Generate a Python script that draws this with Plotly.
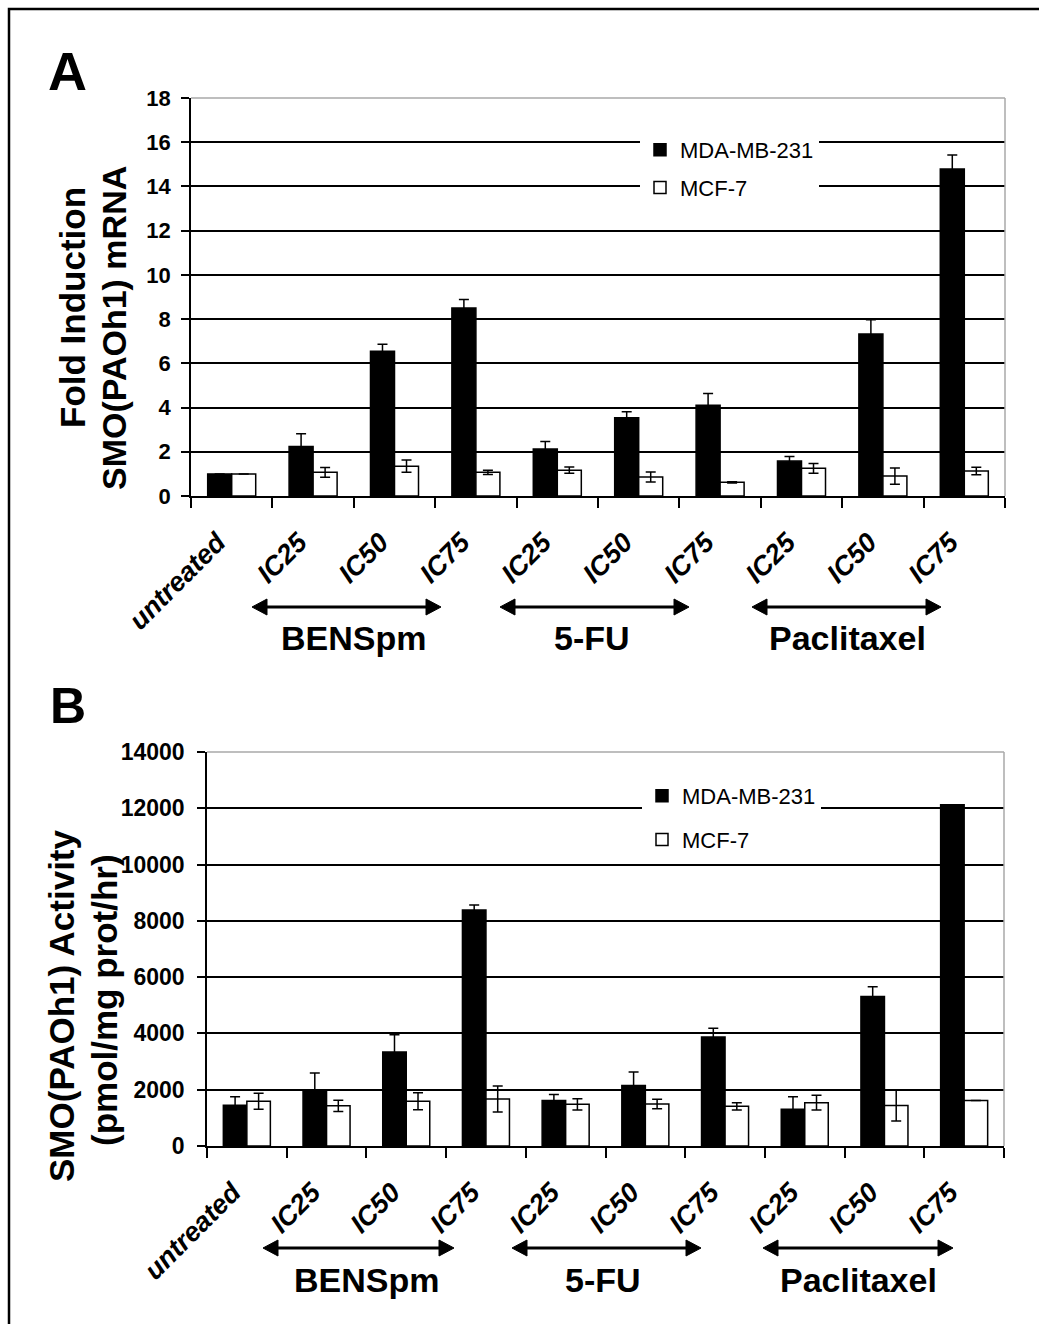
import plotly.graph_objects as go

# ---------------- data ----------------
conditions = ["untreated",
              "BENSpm IC25", "BENSpm IC50", "BENSpm IC75",
              "5-FU IC25", "5-FU IC50", "5-FU IC75",
              "Paclitaxel IC25", "Paclitaxel IC50", "Paclitaxel IC75"]
tick_labels = ["untreated", "IC25", "IC50", "IC75", "IC25", "IC50", "IC75", "IC25", "IC50", "IC75"]
drug_groups = ["BENSpm", "5-FU", "Paclitaxel"]
series_names = ["MDA-MB-231", "MCF-7"]

# Panel A: fold induction of SMO(PAOh1) mRNA
a_mda = [1.0, 2.24, 6.55, 8.5, 2.13, 3.54, 4.1, 1.58, 7.33, 14.79]
a_mda_err = [None, 0.57, 0.31, 0.39, 0.33, 0.27, 0.54, 0.21, 0.64, 0.63]
a_mcf = [1.0, 1.07, 1.35, 1.07, 1.17, 0.86, 0.62, 1.25, 0.9, 1.13]
a_mcf_err = [None, 0.22, 0.28, 0.1, 0.14, 0.23, 0.03, 0.22, 0.37, 0.17]

# Panel B: SMO(PAOh1) activity (pmol/mg prot/hr)
b_mda = [1450, 2000, 3340, 8390, 1620, 2150, 3870, 1310, 5310, 12130]
b_mda_err = [300, 590, 610, 170, 210, 480, 310, 440, 350, None]
b_mcf = [1590, 1430, 1590, 1670, 1480, 1490, 1410, 1540, 1440, 1620]
b_mcf_err = [280, 200, 300, 460, 200, 170, 130, 260, 555, None]

# ---------------- layout helpers ----------------
W, H = 1039, 1324
FONT = "Liberation Sans, Arial, sans-serif"


def px(x):
    return x / W


def py(y):
    return 1 - y / H


fig = go.Figure()


def add_panel(mda, mda_err, mcf, mcf_err, xa, ya, legend):
    fig.add_trace(go.Bar(
        x=conditions, y=mda, name=series_names[0], xaxis=xa, yaxis=ya,
        marker=dict(color="black", line=dict(color="black", width=1.5)),
        error_y=dict(type="data", array=mda_err, visible=True, color="black",
                     thickness=1.5, width=5),
        legend=legend, legendgroup=legend + "a"))
    fig.add_trace(go.Bar(
        x=conditions, y=mcf, name=series_names[1], xaxis=xa, yaxis=ya,
        marker=dict(color="white", line=dict(color="black", width=1.5)),
        error_y=dict(type="data", array=mcf_err, visible=True, color="black",
                     thickness=1.5, width=5),
        legend=legend, legendgroup=legend + "b"))


add_panel(a_mda, a_mda_err, a_mcf, a_mcf_err, "x", "y", "legend")
add_panel(b_mda, b_mda_err, b_mcf, b_mcf_err, "x2", "y2", "legend2")

xcommon = dict(
    type="category", categoryorder="array", categoryarray=conditions,
    tickmode="array", tickvals=conditions, ticktext=tick_labels,
    tickson="boundaries", ticks="outside", ticklen=10, tickwidth=1.5, tickcolor="black",
    showline=True, linecolor="black", linewidth=1.5, showgrid=False,
    tickangle=-45, automargin=False,
    tickfont=dict(family=FONT, size=27, color="black", weight="bold", style="italic"),
    ticklabelstandoff=18, ticklabelshift=-14,
)
ycommon = dict(
    ticks="outside", ticklen=8, tickwidth=1.5, tickcolor="black",
    showline=True, linecolor="black", linewidth=1.5, automargin=False,
    showgrid=True, gridcolor="black", gridwidth=1.5, zeroline=False,
)

fig.update_layout(
    template="none",
    width=W, height=H, margin=dict(l=0, r=0, t=0, b=0, pad=0), autosize=False,
    paper_bgcolor="white", plot_bgcolor="white",
    barmode="group", bargap=0.41, bargroupgap=0,
    font=dict(family=FONT, color="black"),
    xaxis=dict(domain=[px(191), px(1005)], anchor="y", **xcommon),
    yaxis=dict(domain=[py(496), py(98)], anchor="x", range=[0, 18], dtick=2,
               tickfont=dict(family=FONT, size=22, color="black", weight="bold"),
               ticklabelstandoff=6, **ycommon),
    xaxis2=dict(domain=[px(207), px(1004)], anchor="y2", **xcommon),
    yaxis2=dict(domain=[py(1146), py(752)], anchor="x2", range=[0, 14000], dtick=2000,
                tickformat="d",
                tickfont=dict(family=FONT, size=23, color="black", weight="bold"),
                ticklabelstandoff=8, **ycommon),
    legend=dict(x=px(640), y=py(129), xanchor="left", yanchor="top",
                bgcolor="white", borderwidth=0, tracegroupgap=6, entrywidth=160,
                font=dict(family=FONT, size=22, color="black")),
    legend2=dict(x=px(642), y=py(775), xanchor="left", yanchor="top",
                 bgcolor="white", borderwidth=0, tracegroupgap=12, entrywidth=160,
                 font=dict(family=FONT, size=22, color="black")),
)

shapes = []
# outer frame (left & top visible)
shapes.append(dict(type="rect", xref="paper", yref="paper",
                   x0=px(9), y0=py(9), x1=1.02, y1=-0.02,
                   line=dict(color="black", width=2.5)))
# grey top/right plot-area borders
for xr, yr in (("x domain", "y domain"), ("x2 domain", "y2 domain")):
    shapes.append(dict(type="line", xref=xr, yref=yr, x0=0, x1=1, y0=1, y1=1,
                       line=dict(color="#a8a8a8", width=1.5), layer="above"))
    shapes.append(dict(type="line", xref=xr, yref=yr, x0=1, x1=1, y0=0, y1=1,
                       line=dict(color="#a8a8a8", width=1.5), layer="above"))


def arrow(x0, x1, y):
    hl, hh = 15, 8
    shapes.append(dict(type="line", xref="paper", yref="paper",
                       x0=px(x0 + hl - 2), x1=px(x1 - hl + 2), y0=py(y), y1=py(y),
                       line=dict(color="black", width=3)))
    shapes.append(dict(type="path", xref="paper", yref="paper",
                       path=f"M {px(x0)},{py(y)} L {px(x0 + hl)},{py(y - hh)} L {px(x0 + hl)},{py(y + hh)} Z",
                       fillcolor="black", line=dict(color="black", width=1)))
    shapes.append(dict(type="path", xref="paper", yref="paper",
                       path=f"M {px(x1)},{py(y)} L {px(x1 - hl)},{py(y - hh)} L {px(x1 - hl)},{py(y + hh)} Z",
                       fillcolor="black", line=dict(color="black", width=1)))


annotations = []
arrows_a = [(252, 441), (500, 689), (752, 941)]
labels_a_x = [353, 592, 847]
arrows_b = [(263, 454), (512, 701), (763, 953)]
labels_b_x = [366, 603, 858]
for (x0, x1), lx, g in zip(arrows_a, labels_a_x, drug_groups):
    arrow(x0, x1, 607)
    annotations.append(dict(text=g, x=px(lx), y=py(638), xref="paper", yref="paper",
                            showarrow=False, xanchor="center", yanchor="middle",
                            font=dict(family=FONT, size=34, weight="bold", color="black")))
for (x0, x1), lx, g in zip(arrows_b, labels_b_x, drug_groups):
    arrow(x0, x1, 1248)
    annotations.append(dict(text=g, x=px(lx), y=py(1280), xref="paper", yref="paper",
                            showarrow=False, xanchor="center", yanchor="middle",
                            font=dict(family=FONT, size=34, weight="bold", color="black")))

annotations += [
    dict(text="A", x=px(67), y=py(71), xref="paper", yref="paper", showarrow=False,
         xanchor="center", yanchor="middle",
         font=dict(family=FONT, size=54, weight="bold", color="black")),
    dict(text="B", x=px(68), y=py(706), xref="paper", yref="paper", showarrow=False,
         xanchor="center", yanchor="middle",
         font=dict(family=FONT, size=50, weight="bold", color="black")),
    dict(text="Fold Induction", x=px(73), y=py(308), xref="paper", yref="paper",
         showarrow=False, textangle=-90, xanchor="center", yanchor="middle",
         font=dict(family=FONT, size=35, weight="bold", color="black")),
    dict(text="SMO(PAOh1) mRNA", x=px(114), y=py(328), xref="paper", yref="paper",
         showarrow=False, textangle=-90, xanchor="center", yanchor="middle",
         font=dict(family=FONT, size=34, weight="bold", color="black")),
    dict(text="SMO(PAOh1) Activity", x=px(62), y=py(1006), xref="paper", yref="paper",
         showarrow=False, textangle=-90, xanchor="center", yanchor="middle",
         font=dict(family=FONT, size=35, weight="bold", color="black")),
    dict(text="(pmol/mg prot/hr)", x=px(104), y=py(1000), xref="paper", yref="paper",
         showarrow=False, textangle=-90, xanchor="center", yanchor="middle",
         font=dict(family=FONT, size=35, weight="bold", color="black")),
]

fig.update_layout(shapes=shapes, annotations=annotations)

fig.write_html("out.html", config={"displayModeBar": False},
               post_script="document.body.style.margin='0';document.body.style.overflow='hidden';")
